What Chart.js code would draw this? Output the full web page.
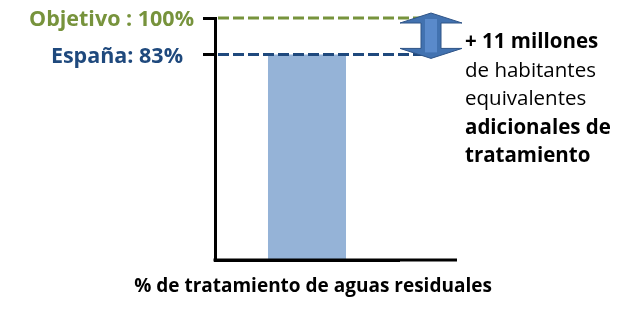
<!DOCTYPE html>
<html>
<head>
<meta charset="utf-8">
<script src="https://cdn.jsdelivr.net/npm/chart.js@4.4.0/dist/chart.umd.min.js"></script>
<style>
  html, body { margin: 0; padding: 0; background: #fff; }
  #wrap { width: 620px; height: 313px; }
</style>
</head>
<body>
<div id="wrap"><canvas id="mycanvas"></canvas></div>
<script>
// datos
var categories = ["España"];
var tratamiento = [83];
var objetivo = 100;
var tickValues = [100, 83];
var tickLabels = ["Objetivo : 100%", "España: 83%"];
var notaLines = ["+ 11 millones", "de habitantes", "equivalentes", "adicionales de", "tratamiento"];
var notaBold = [true, false, false, true, true];
var caption = "% de tratamiento de aguas residuales";

var FONT = "'Open Sans', sans-serif";
var verde = "#77933C";
var azul = "#1F497D";

var extras = {
  id: "extras",
  afterDatasetsDraw: function(chart) {
    var ctx = chart.ctx;
    var area = chart.chartArea;
    var y = chart.scales.y;
    var yObj = y.getPixelForValue(objetivo);
    var yEsp = y.getPixelForValue(tratamiento[0]);
    var arrowX = area.right + 32;

    ctx.save();
    // eje x hasta la flecha
    ctx.strokeStyle = "#000";
    ctx.lineWidth = 3;
    ctx.beginPath();
    ctx.moveTo(area.left - 1.5, area.bottom);
    ctx.lineTo(area.right + 58, area.bottom);
    ctx.stroke();

    // lineas discontinuas
    ctx.setLineDash([11, 4]);
    ctx.strokeStyle = verde;
    ctx.beginPath();
    ctx.moveTo(area.left + 3, yObj);
    ctx.lineTo(arrowX - 8, yObj);
    ctx.stroke();
    ctx.strokeStyle = azul;
    ctx.beginPath();
    ctx.moveTo(area.left + 3, yEsp);
    ctx.lineTo(arrowX - 8, yEsp);
    ctx.stroke();
    ctx.setLineDash([]);

    // flecha doble
    var t = yObj - 5, b = yEsp + 4, hw = 31, sw = 10, hh = 10;
    ctx.beginPath();
    ctx.moveTo(arrowX, t);
    ctx.lineTo(arrowX + hw, t + hh);
    ctx.lineTo(arrowX + sw, t + hh);
    ctx.lineTo(arrowX + sw, b - hh);
    ctx.lineTo(arrowX + hw, b - hh);
    ctx.lineTo(arrowX, b);
    ctx.lineTo(arrowX - hw, b - hh);
    ctx.lineTo(arrowX - sw, b - hh);
    ctx.lineTo(arrowX - sw, t + hh);
    ctx.lineTo(arrowX - hw, t + hh);
    ctx.closePath();
    ctx.fillStyle = "#4272B0";
    ctx.fill();
    ctx.lineWidth = 1;
    ctx.strokeStyle = "#2F5487";
    ctx.stroke();
    ctx.fillStyle = "#5A8ACB";
    ctx.fillRect(arrowX - 6, t + 6, 12, b - t - 12);

    // etiquetas izquierda
    ctx.textAlign = "right";
    ctx.textBaseline = "middle";
    ctx.font = "bold 21.5px " + FONT;
    ctx.fillStyle = verde;
    ctx.fillText(tickLabels[0], 194, y.getPixelForValue(tickValues[0]) + 2);
    ctx.fillStyle = azul;
    ctx.fillText(tickLabels[1], 183, y.getPixelForValue(tickValues[1]) + 2);

    // nota
    ctx.textAlign = "left";
    ctx.textBaseline = "alphabetic";
    ctx.fillStyle = "#000";
    for (var i = 0; i < notaLines.length; i++) {
      ctx.font = (notaBold[i] ? "bold " : "") + "20.5px " + FONT;
      ctx.fillText(notaLines[i], area.right + 66, 48 + i * 28.5);
    }

    // titulo
    ctx.textAlign = "center";
    ctx.font = "bold 19px " + FONT;
    ctx.fillText(caption, 313, 292);
    ctx.restore();
  }
};

var ctx = document.getElementById("mycanvas");
var grafico = new Chart(ctx, {
  type: "bar",
  data: {
    labels: categories,
    datasets: [{
      data: tratamiento,
      base: -13,
      backgroundColor: "#95B3D7",
      borderWidth: 0,
      categoryPercentage: 1,
      barPercentage: 0.424
    }]
  },
  options: {
    responsive: true,
    maintainAspectRatio: false,
    animation: false,
    layout: { padding: { left: 203, right: 221, top: 18, bottom: 53 } },
    plugins: { legend: { display: false }, tooltip: { enabled: false } },
    scales: {
      x: {
        grid: { display: false },
        ticks: { display: false },
        border: { display: true, color: "#000", width: 3 },
        afterFit: function(s) { s.height = 0; }
      },
      y: {
        min: -13,
        max: 100,
        afterBuildTicks: function(s) {
          s.ticks = tickValues.map(function(v) { return { value: v }; });
        },
        grid: { display: true, drawOnChartArea: false, drawTicks: true, tickLength: 12, color: "#000", lineWidth: 3 },
        ticks: { display: false },
        border: { display: true, color: "#000", width: 3 },
        afterFit: function(s) { s.width = 12; }
      }
    }
  },
  plugins: [extras]
});
</script>
</body>
</html>
